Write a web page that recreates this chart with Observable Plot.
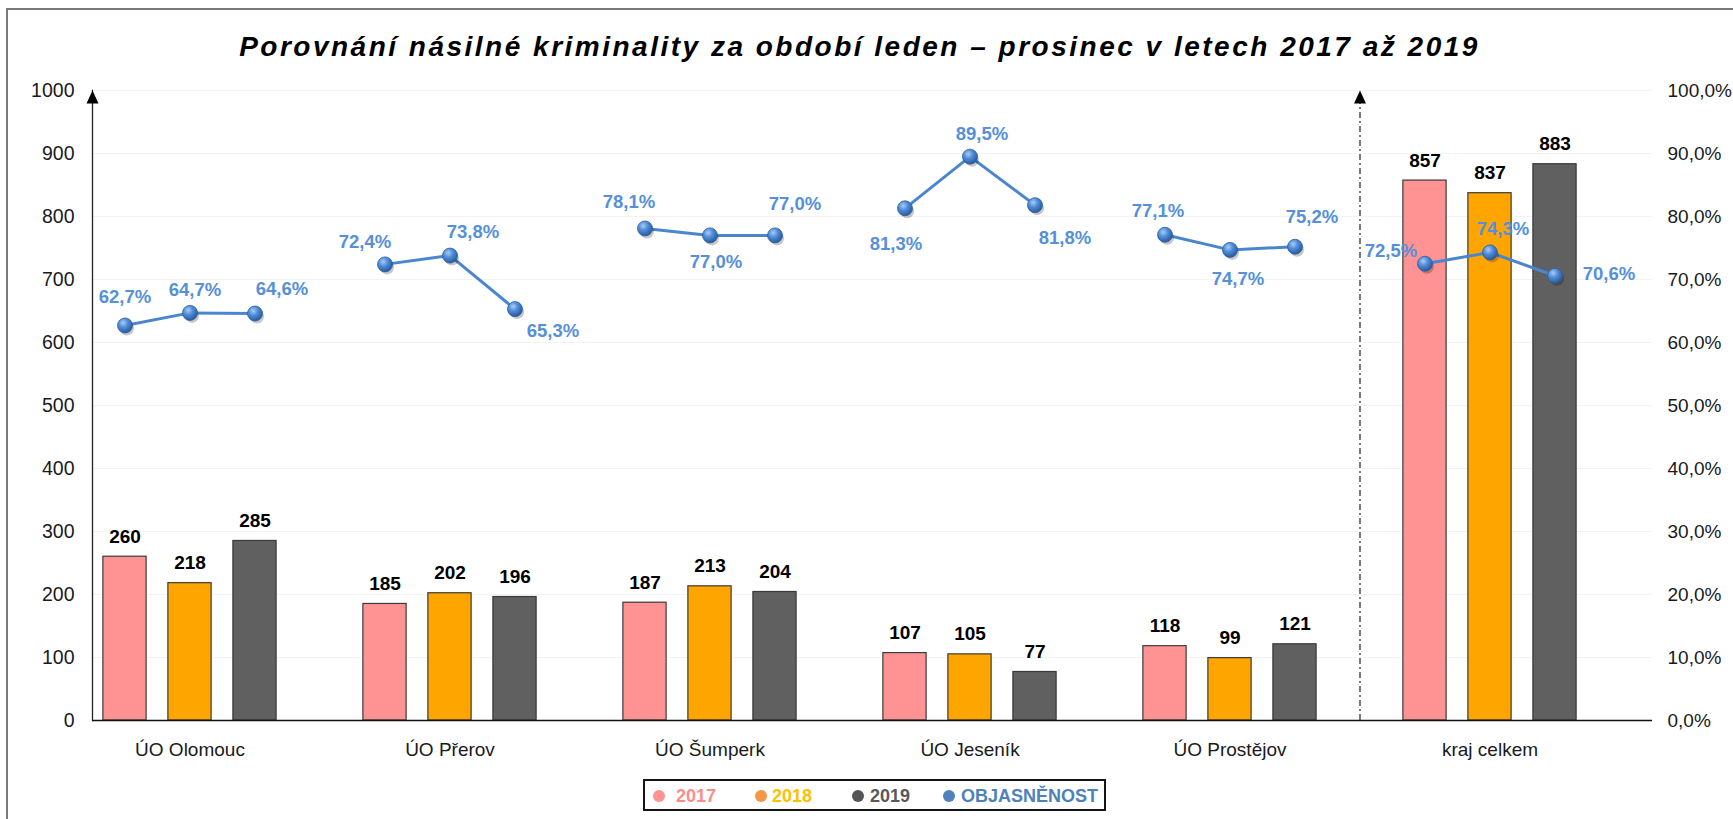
<!DOCTYPE html>
<html>
<head>
<meta charset="utf-8">
<script src="https://cdn.jsdelivr.net/npm/d3@7"></script>
<script src="https://cdn.jsdelivr.net/npm/@observablehq/plot@0.6"></script>
<style>
  html, body { margin: 0; padding: 0; background: #fff; }
  #page { position: relative; width: 1733px; height: 819px; overflow: hidden; font-family: "Liberation Sans", Arial, sans-serif; }
  #border { position: absolute; left: 6px; top: 8px; width: 3000px; height: 3000px; border-left: 2px solid #7b7b7b; border-top: 2px solid #7b7b7b; }
  #title { position: absolute; left: 0; top: 33px; width: 1733px; padding-right: 14px; box-sizing: border-box; text-align: center;
           font: italic bold 28px/28px "Liberation Sans", Arial, sans-serif; letter-spacing: 2.5px; color: #000; }
  #chart { position: absolute; left: 0; top: 70px; }
  #legend { position: absolute; left: 643px; top: 779px; width: 463px; height: 32px; box-sizing: border-box; border: 2px solid #151515; background: #fff; }
  #legend .dot { position: absolute; top: 9px; width: 12px; height: 12px; border-radius: 50%; }
  #legend .lab { position: absolute; top: 5px; font: bold 18px/20px "Liberation Sans", Arial, sans-serif; }
</style>
</head>
<body>
<div id="page">
  <div id="border"></div>
  <div id="title">Porovnání násilné kriminality za období leden – prosinec v letech 2017 až 2019</div>
  <div id="chart"></div>
  <div id="legend"></div>
</div>
<script>
// ---- data ----
const categories = ["ÚO Olomouc", "ÚO Přerov", "ÚO Šumperk", "ÚO Jeseník", "ÚO Prostějov", "kraj celkem"];
const years = ["2017", "2018", "2019"];
const counts2017 = [260, 185, 187, 107, 118, 857];
const counts2018 = [218, 202, 213, 105, 99, 837];
const counts2019 = [285, 196, 204, 77, 121, 883];
const clearance2017 = [62.7, 72.4, 78.1, 81.3, 77.1, 72.5];
const clearance2018 = [64.7, 73.8, 77.0, 89.5, 74.7, 74.3];
const clearance2019 = [64.6, 65.3, 77.0, 81.8, 75.2, 70.6];
const countTicks = [0, 100, 200, 300, 400, 500, 600, 700, 800, 900, 1000];
const percentTicks = [0, 10, 20, 30, 40, 50, 60, 70, 80, 90, 100];
const seriesNames = ["2017", "2018", "2019", "OBJASNĚNOST"];

// ---- layout / style config ----
const barColors = ["#FF9393", "#FFA500", "#606060"];
const legendDotColors = ["#FF9393", "#F79646", "#555555", "#4F81BD"];
const legendTextColors = ["#FF8C8C", "#FFC000", "#595959", "#4F81BD"];
const lineColor = "#4A86D0";
const pctLabelColor = "#5590D9";
// label offsets [dx, dy] for percentage labels, per category, per year
const pctLabelOffsets = [
  [[0, -28], [5, -23], [27, -24]],
  [[-20, -22], [23, -23], [38, 22]],
  [[-16, -26], [6, 27], [20, -31]],
  [[-9, 36], [12, -23], [30, 33]],
  [[-7, -24], [8, 29], [17, -30]],
  [[-34, -13], [13, -23], [54, -2]]
];

const GAP = "gap";
const keyOf = (c, y) => c + "|" + y;
const xDomain = categories.flatMap(c => [...years.map(y => keyOf(c, y)), keyOf(c, GAP)]);
const countSeries = [counts2017, counts2018, counts2019];
const pctSeries = [clearance2017, clearance2018, clearance2019];

const rows = [];
categories.forEach((c, i) => years.forEach((y, j) => {
  rows.push({category: c, year: y, key: keyOf(c, y), count: countSeries[j][i], pct: pctSeries[j][i], off: pctLabelOffsets[i][j]});
}));

const fmtPct = v => v.toFixed(1).replace(".", ",") + "%";
const pctToY = p => p * 10; // 0–100 % shares the vertical extent of 0–1000

const arrowHead = {
  draw(ctx) { ctx.moveTo(0, 0); ctx.lineTo(6, 13); ctx.lineTo(-6, 13); ctx.closePath(); }
};

const pctLabelMarks = rows.map(r => Plot.text([r], {
  x: "key", y: d => pctToY(d.pct), text: d => fmtPct(d.pct),
  dx: r.off[0], dy: r.off[1], fill: pctLabelColor, fontWeight: "bold", fontSize: 18.5
}));

const separatorKey = keyOf(categories[4], GAP);

const svg = Plot.plot({
  width: 1733,
  height: 705,
  marginLeft: 92,
  marginRight: 81,
  marginTop: 20,
  marginBottom: 55,
  style: {fontFamily: "'Liberation Sans', Arial, sans-serif", fontSize: "19px", color: "#1a1a1a", background: "transparent"},
  x: {type: "band", domain: xDomain, paddingInner: 0.335, paddingOuter: 0.1675, round: false, axis: null},
  y: {domain: [0, 1000]},
  color: {domain: years, range: barColors},
  marks: [
    Plot.gridY({ticks: countTicks, stroke: "#f3f3f3", strokeOpacity: 1}),
    Plot.axisY({anchor: "left", ticks: countTicks, tickSize: 0, tickPadding: 18, tickFormat: d => String(d), fontSize: 19.5, label: null}),
    Plot.axisY({anchor: "right", ticks: percentTicks.map(pctToY), tickSize: 0, tickPadding: 15, tickFormat: d => fmtPct(d / 10), fontSize: 19, label: null}),
    Plot.barY(rows, {x: "key", y: "count", fill: "year", stroke: "#3a3a3a", strokeWidth: 1.2}),
    Plot.ruleY([0], {stroke: "#111", strokeWidth: 1.5}),
    Plot.frame({anchor: "left", stroke: "#222", strokeWidth: 1.3}),
    Plot.dot([1000], {y: d => d, frameAnchor: "left", symbol: arrowHead, r: 5, fill: "#000", stroke: "none"}),
    Plot.ruleX([separatorKey], {x: d => d, y1: 0, y2: 990, stroke: "#222", strokeWidth: 1.2, strokeDasharray: "6,3,2,3"}),
    Plot.dot([separatorKey], {x: d => d, y: () => 1000, symbol: arrowHead, r: 5, fill: "#000", stroke: "none"}),
    Plot.text(rows, {x: "key", y: "count", text: d => String(d.count), dy: -20, fontWeight: "bold", fontSize: 19, fill: "#000"}),
    Plot.text(categories, {x: c => keyOf(c, years[1]), frameAnchor: "bottom", dy: 35, text: c => c, fontSize: 19, fill: "#1a1a1a"}),
    Plot.line(rows, {x: "key", y: d => pctToY(d.pct), z: "category", stroke: lineColor, strokeWidth: 3}),
    Plot.dot(rows, {x: "key", y: d => pctToY(d.pct), r: 7, dx: 2, dy: 3, fill: "#000", fillOpacity: 0.22, stroke: "none"}),
    Plot.dot(rows, {x: "key", y: d => pctToY(d.pct), r: 7.5, fill: "url(#sphere)", stroke: "#2d5f9e", strokeWidth: 0.8}),
    ...pctLabelMarks
  ]
});

const defs = d3.select(svg).insert("defs", ":first-child");
const grad = defs.append("radialGradient").attr("id", "sphere").attr("cx", "38%").attr("cy", "32%").attr("r", "70%");
grad.append("stop").attr("offset", "0").attr("stop-color", "#a9cdf5");
grad.append("stop").attr("offset", "0.45").attr("stop-color", "#4f8cd8");
grad.append("stop").attr("offset", "1").attr("stop-color", "#28589a");

document.getElementById("chart").appendChild(svg);

// legend
const legend = document.getElementById("legend");
const dotLefts = [8, 110, 207, 298];
const textLefts = [31, 127, 225, 316];
seriesNames.forEach((name, i) => {
  const dot = document.createElement("div");
  dot.className = "dot";
  dot.style.left = dotLefts[i] + "px";
  dot.style.background = legendDotColors[i];
  legend.appendChild(dot);
  const lab = document.createElement("div");
  lab.className = "lab";
  lab.style.left = textLefts[i] + "px";
  lab.style.color = legendTextColors[i];
  lab.textContent = name;
  legend.appendChild(lab);
});
</script>
</body>
</html>
